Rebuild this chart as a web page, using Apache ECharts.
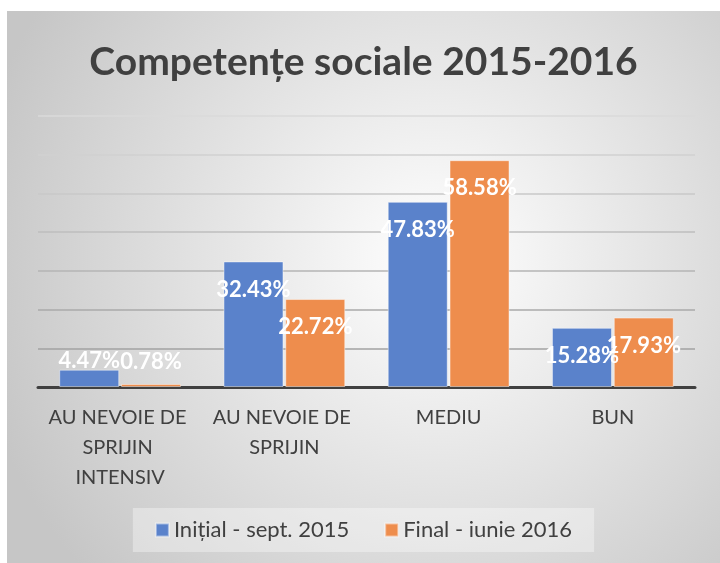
<!DOCTYPE html>
<html>
<head>
<meta charset="utf-8">
<script src="https://cdn.jsdelivr.net/npm/echarts@6/dist/echarts.min.js"></script>
<style>
  html, body { margin: 0; padding: 0; background: #fff; }
  #chart { position: absolute; left: 7px; top: 11px; width: 713px; height: 552px; }
</style>
</head>
<body>
<div id="chart"></div>
<script>
// date din grafic
var titlu = "Competențe sociale 2015-2016";
var categorii = ["AU NEVOIE DE SPRIJIN INTENSIV", "AU NEVOIE DE SPRIJIN", "MEDIU", "BUN"];
var numeSerii = ["Inițial - sept. 2015", "Final - iunie 2016"];
var initial = [4.47, 32.43, 47.83, 15.28];
var final = [0.78, 22.72, 58.58, 17.93];

var culori = ["#5a82cb", "#ee8d4d"];
var font = "Lato, 'Open Sans', sans-serif";

// etichetele mici sunt puse deasupra barei (ca in Excel)
function faDate(valori, distMica) {
  return valori.map(function (v, i) {
    if (i === 0) {
      return { value: v, label: { position: "top", distance: distMica } };
    }
    return v;
  });
}

function serie(idx, valori, distMica) {
  return {
    name: numeSerii[idx],
    type: "bar",
    barWidth: 60,
    barGap: "3%",
    data: faDate(valori, distMica),
    itemStyle: {
      color: culori[idx],
      borderColor: "rgba(255,255,255,0.45)",
      borderWidth: 1
    },
    label: {
      show: true,
      position: "insideTop",
      distance: 17,
      color: "#fff",
      fontFamily: font,
      fontWeight: "bold",
      fontSize: 22,
      formatter: function (p) {
        return p.value.toFixed(2) + "%";
      }
    }
  };
}

var myChart = echarts.init(document.getElementById("chart"));
var option = {
  backgroundColor: new echarts.graphic.RadialGradient(0.6, 0.45, 0.85, [
    { offset: 0, color: "#ffffff" },
    { offset: 1, color: "#c6c6c6" }
  ]),
  title: {
    text: titlu,
    left: "center",
    top: 27,
    textStyle: {
      fontFamily: font,
      fontWeight: "bold",
      fontSize: 39,
      color: "#404040"
    }
  },
  legend: {
    left: "center",
    top: 497,
    padding: [11, 22],
    backgroundColor: "rgba(255,255,255,0.35)",
    icon: "rect",
    itemWidth: 13,
    itemHeight: 13,
    itemGap: 35,
    textStyle: { fontFamily: font, fontSize: 22, color: "#404040" },
    data: numeSerii
  },
  grid: { left: 31, right: 25, top: 105, bottom: 176 },
  xAxis: {
    type: "category",
    data: categorii,
    axisTick: { show: false },
    axisLine: { lineStyle: { color: "#404040", width: 3 } },
    axisLabel: {
      interval: 0,
      margin: 16,
      width: 150,
      overflow: "break",
      lineHeight: 30,
      fontFamily: font,
      fontSize: 20,
      color: "#404040"
    }
  },
  yAxis: {
    type: "value",
    min: 0,
    max: 70,
    interval: 10,
    axisLabel: { show: false },
    axisLine: { show: false },
    axisTick: { show: false },
    splitLine: {
      lineStyle: {
        width: 1.5,
        color: ["#8c8c8c", "#a2a2a2", "#aaaaaa", "#b4b4b4", "#bebebe", "#c8c8c8", "#d0d0d0", "#dadada"]
      }
    }
  },
  series: [serie(0, initial, -2), serie(1, final, 11)]
};
window.onresize = myChart.resize;
myChart.setOption(option);
</script>
</body>
</html>
